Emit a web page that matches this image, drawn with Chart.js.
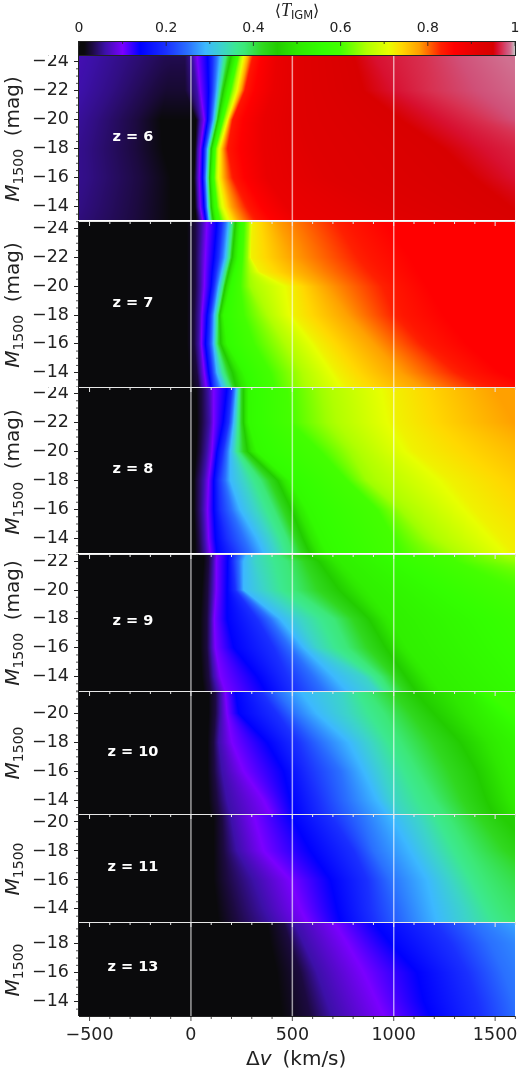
<!DOCTYPE html>
<html><head><meta charset="utf-8">
<script src="https://cdn.jsdelivr.net/npm/chart.js@4"></script>
<style>html,body{margin:0;padding:0;background:#fff;width:520px;height:1069px;overflow:hidden}canvas{position:absolute;left:0}</style>
</head><body>
<div id="root"></div>
<script>
// colour scale
const cmapT=[0,.012,.03,.06,.10,.14,.20,.25,.29,.33,.36,.38,.42,.455,.50,.56,.60,.66,.71,.74,.78,.83,.86,.92,.95,.96,.97,.98,.99,1];
const cmapColor=['#0a0a0a','#0a0a0c','#1c0a40','#3c10a8','#7a00ff','#0000ff','#1a30ff','#2a70ff','#3cb8ff','#3cd4c8','#3ce890','#3ce878','#30d820','#22cc00','#2ee800','#33ff00','#44ff00','#b0ff00','#e8ff00','#ffd800','#ffa000','#ff2000','#ff0000','#e00000','#d80000','#d81030','#d83050','#d05078','#d07090','#c8c8c8'];
const colorbarTicks=[0,.2,.4,.6,.8,1], colorbarMinor=[.1,.3,.5,.7,.9];
const xTicks=[-500,0,500,1000,1500], xMinor=[-400,-300,-200,-100,100,200,300,400,600,700,800,900,1100,1200,1300,1400,1600];
const refLines=[0,500,1000];

// z = 6
const z6Label='z = 6', z6Ticks=[-24,-22,-20,-18,-16,-14];
const z6M=[-24.45,-22,-20,-18,-16,-14,-13.1];
const z6Floor=[.035,.025,.005,0,0,0,0];
const z6T=[.075,.05,.03,.012,.012,.06,.10,.14,.29,.38,.45,.55,.70,.78,.84,.90,.92,.95,.96,.97,.98,.99];
const z6Dv=[
[-700,-330,-120,-90,-30,5,30,82,145,174,197,224,257,285,309,424,540,803,901,1148,1313,1543],
[-750,-400,-180,-120,-30,30,46,87,128,145,158,181,224,247,268,408,540,852,1000,1181,1411,1690],
[-800,-480,-270,-150,25,46,66,82,112,125,132,148,178,191,207,359,540,1033,1230,1428,1600,1855],
[-900,-520,-280,-140,20,33,46,59,82,92,100,112,137,158,183,359,589,1247,1444,1724,2020,2350],
[-1000,-513,-250,-100,15,30,41,56,76,86,92,105,132,165,211,375,671,1395,1600,1855,2185,2513],
[-1100,-560,-270,-100,20,35,46,64,82,92,100,115,153,202,285,474,951,1576,1855,2100,2300,2500],
[-1100,-600,-280,-100,25,46,58,72,89,99,109,125,178,235,326,540,1115,1691,2020,2250,2450,2650]];
// z = 7
const z7Label='z = 7', z7Ticks=[-24,-22,-20,-18,-16,-14];
const z7M=[-24.55,-22,-21,-20,-18,-16,-14,-13];
const z7T=[.012,.03,.06,.10,.14,.20,.29,.38,.45,.55,.65,.72,.78,.84,.86];
const z7Dv=[
[-20,21,54,79,128,153,186,206,219,243,285,301,424,770,951],
[-20,21,46,71,112,137,169,191,202,230,280,296,507,885,1082],
[-20,21,46,68,104,125,152,173,185,212,285,340,580,940,1120],
[-20,21,46,66,99,115,137,158,168,194,293,490,671,1000,1165],
[-20,16,41,54,79,95,115,132,141,161,359,507,770,1050,1247],
[-20,16,38,51,71,89,112,128,145,178,441,622,901,1181,1362],
[-10,30,46,66,87,104,128,165,202,260,523,720,1033,1362,1527],
[0,38,54,76,99,112,153,194,219,285,540,770,1132,1494,1691]];
// z = 8
const z8Label='z = 8', z8Ticks=[-24,-22,-20,-18,-16,-14];
const z8M=[-24.45,-22,-20,-18,-16,-14,-13];
const z8T=[.012,.03,.06,.10,.14,.20,.29,.38,.45,.55,.60,.65,.72,.78];
const z8Dv=[
[25,54,87,112,178,202,224,240,257,285,474,638,984,1494],
[30,54,92,112,158,186,211,237,257,285,490,671,1017,1592],
[25,46,79,104,128,158,194,235,276,326,638,786,1099,1855],
[15,30,63,87,112,137,194,342,424,490,770,869,1280,2020],
[15,30,59,82,112,145,243,408,490,572,918,1033,1395,2185],
[20,38,66,87,120,178,326,474,548,638,1000,1165,1527,2349],
[20,43,71,95,128,211,359,498,581,671,1033,1263,1592,2514]];
// z = 9
const z9Label='z = 9', z9Ticks=[-22,-20,-18,-16,-14];
const z9M=[-22.5,-22,-20,-18,-16,-14,-13];
const z9T=[.012,.03,.06,.10,.14,.20,.29,.33,.38,.45,.52,.60,.65];
const z9Dv=[
[63,87,112,128,186,211,276,326,424,556,704,1280,1527],
[63,87,109,125,181,207,260,317,474,622,737,1300,1640],
[54,82,105,125,178,219,260,359,507,720,869,1600,2400],
[46,79,99,115,178,326,441,540,704,869,984,1900,2600],
[46,79,99,120,211,408,556,622,770,951,1066,2000,2800],
[54,87,112,145,326,474,704,852,934,1050,1181,2100,3000],
[63,95,128,169,367,507,770,918,984,1099,1230,2200,3100]];
// z = 10
const z10Label='z = 10', z10Ticks=[-20,-18,-16,-14];
const z10M=[-21.55,-20,-18,-16,-14,-13.05];
const z10T=[.012,.03,.06,.10,.14,.20,.25,.29,.33,.38,.45,.52,.58];
const z10Dv=[
[87,120,145,169,219,342,424,540,737,869,1082,1362,1450],
[87,120,145,178,235,424,507,622,770,951,1181,1420,1600],
[82,112,137,202,375,523,640,780,885,1033,1313,1527,1800],
[82,115,153,260,457,580,737,852,951,1115,1395,1576,2000],
[87,128,178,359,490,630,770,918,1000,1198,1444,1625,2200],
[95,137,194,392,507,650,803,967,1033,1247,1477,1658,2300]];
// z = 11
const z11Label='z = 11', z11Ticks=[-20,-18,-16,-14];
const z11M=[-20.5,-18,-16,-14,-13.1];
const z11T=[.012,.03,.06,.10,.14,.20,.25,.29,.33,.38,.45];
const z11Dv=[
[112,153,194,309,490,688,836,984,1115,1263,1527],
[112,161,227,359,589,803,901,1082,1198,1362,1691],
[112,178,309,490,688,869,984,1165,1280,1444,1938],
[128,211,359,540,720,885,1033,1198,1346,1527,2185],
[137,227,392,572,737,901,1050,1214,1362,1576,2349]];
// z = 13
const z13Label='z = 13', z13Ticks=[-18,-16,-14];
const z13M=[-19.47,-18,-16,-14,-13.03];
const z13T=[.012,.03,.06,.10,.14,.20,.25,.29];
const z13Dv=[
[375,457,507,704,901,1198,1395,1642],
[392,490,556,770,984,1280,1477,1855],
[424,540,622,852,1115,1362,1543,1938],
[441,572,671,918,1148,1411,1592,2020],
[449,589,696,951,1181,1428,1609,2102]];

const FONT='"DejaVu Sans"';
const panels=[
 {label:z6Label,ticks:z6Ticks,M:z6M,T:z6T,Dv:z6Dv,floor:z6Floor,top:55,bottom:220,yMin:-24.45,yMax:-13.1,labelAt:[-286,-18.8],yLab:[139,true]},
 {label:z7Label,ticks:z7Ticks,M:z7M,T:z7T,Dv:z7Dv,top:221,bottom:387,yMin:-24.55,yMax:-13,labelAt:[-286,-18.86],yLab:[305,true]},
 {label:z8Label,ticks:z8Ticks,M:z8M,T:z8T,Dv:z8Dv,top:387,bottom:553,yMin:-24.45,yMax:-13,labelAt:[-286,-18.8],yLab:[472,true]},
 {label:z9Label,ticks:z9Ticks,M:z9M,T:z9T,Dv:z9Dv,top:554,bottom:691,yMin:-22.5,yMax:-13,labelAt:[-286,-17.83],yLab:[623,true]},
 {label:z10Label,ticks:z10Ticks,M:z10M,T:z10T,Dv:z10Dv,top:691,bottom:814,yMin:-21.55,yMax:-13.05,labelAt:[-286,-17.3],yLab:[753,false]},
 {label:z11Label,ticks:z11Ticks,M:z11M,T:z11T,Dv:z11Dv,top:814,bottom:922,yMin:-20.55,yMax:-13.1,labelAt:[-286,-16.9],yLab:[869,false]},
 {label:z13Label,ticks:z13Ticks,M:z13M,T:z13T,Dv:z13Dv,top:922,bottom:1016,yMin:-19.47,yMax:-13.03,labelAt:[-286,-16.35],yLab:[970,false],last:true}
];

const stops=cmapColor.map(h=>[parseInt(h.slice(1,3),16),parseInt(h.slice(3,5),16),parseInt(h.slice(5,7),16)]);
function colorOf(t){
  if(t<=0) return stops[0];
  if(t>=1) return stops[stops.length-1];
  let i=1; while(cmapT[i]<t) i++;
  const f=(t-cmapT[i-1])/(cmapT[i]-cmapT[i-1]),a=stops[i-1],b=stops[i];
  return [a[0]+(b[0]-a[0])*f,a[1]+(b[1]-a[1])*f,a[2]+(b[2]-a[2])*f];
}
function fixPad(s){s.paddingLeft=0;s.paddingRight=0;s.paddingTop=0;s.paddingBottom=0;}

// fills the plot from the contour datasets, through the chart's scales
const heatPlugin={id:'heat',beforeDatasetsDraw(chart){
  const {ctx,chartArea:a,scales:{x,y}}=chart, ds=chart.data.datasets;
  const w=Math.round(a.right-a.left),h=Math.round(a.bottom-a.top);
  const img=ctx.createImageData(w,h), n=ds.length, nr=ds[0].data.length;
  const pos=new Array(n), ts=new Array(n);
  for(let py=0;py<h;py++){
    const M=y.getValueForPixel(a.top+py+.5);
    let r=0; while(r<nr-2&&ds[0].data[r+1].y<M) r++;
    const y0=ds[0].data[r].y,y1=ds[0].data[r+1].y, f=Math.max(0,Math.min(1,(M-y0)/(y1-y0)));
    for(let i=0;i<n;i++){const p=ds[i].data[r],q=ds[i].data[r+1];pos[i]=p.x+(q.x-p.x)*f;ts[i]=p.t+(q.t-p.t)*f;}
    let k=0;
    for(let px=0;px<w;px++){
      const v=x.getValueForPixel(a.left+px+.5);
      while(k<n&&pos[k]<v) k++;
      let t;
      if(k===0) t=ts[0]; else if(k>=n) t=ts[n-1];
      else t=ts[k-1]+(ts[k]-ts[k-1])*(v-pos[k-1])/Math.max(1e-6,pos[k]-pos[k-1]);
      const c=colorOf(t), o=(py*w+px)*4;
      img.data[o]=c[0];img.data[o+1]=c[1];img.data[o+2]=c[2];img.data[o+3]=255;
    }
  }
  ctx.putImageData(img,Math.round(a.left),Math.round(a.top));
}};

const overlayPlugin={id:'overlay',afterDraw(chart,args,opts){
  const p=opts.panel,{ctx,chartArea:a,scales:{x,y}}=chart;
  ctx.save();
  // reference lines
  ctx.strokeStyle='rgba(255,255,255,.6)';ctx.lineWidth=1.5;
  refLines.forEach(v=>{const px=x.getPixelForValue(v);ctx.beginPath();ctx.moveTo(px,a.top);ctx.lineTo(px,a.bottom);ctx.stroke();});
  // panel label
  ctx.fillStyle='#fff';ctx.font='bold 14.5px '+FONT;ctx.textAlign='center';ctx.textBaseline='middle';
  ctx.fillText(p.label,x.getPixelForValue(p.labelAt[0]),y.getPixelForValue(p.labelAt[1]));
  // y minor ticks
  ctx.strokeStyle='#222';ctx.lineWidth=.8;
  for(let v=Math.ceil(y.min*2)/2;v<=y.max;v+=.5){
    if(Number.isInteger(v)&&v%2===0) continue;
    const py=y.getPixelForValue(v);ctx.beginPath();ctx.moveTo(a.left,py);ctx.lineTo(a.left-3,py);ctx.stroke();
  }
  // left / bottom spines
  ctx.strokeStyle='#222';ctx.lineWidth=1;
  ctx.beginPath();ctx.moveTo(a.left-.5,a.top);ctx.lineTo(a.left-.5,a.bottom);ctx.stroke();
  if(p.last){
    ctx.beginPath();ctx.moveTo(a.left,a.bottom+.5);ctx.lineTo(a.right,a.bottom+.5);ctx.stroke();
    ctx.lineWidth=.8;
    xTicks.forEach(v=>{const px=x.getPixelForValue(v);ctx.beginPath();ctx.moveTo(px,a.bottom);ctx.lineTo(px,a.bottom+5);ctx.stroke();});
    xMinor.forEach(v=>{const px=x.getPixelForValue(v);ctx.beginPath();ctx.moveTo(px,a.bottom);ctx.lineTo(px,a.bottom+3);ctx.stroke();});
    // x title
    ctx.fillStyle='#222';ctx.textBaseline='alphabetic';ctx.textAlign='left';
    const cy=a.bottom+49;let cx=246;
    ctx.font='20px '+FONT;ctx.fillText('Δ',cx,cy);cx+=ctx.measureText('Δ').width;
    ctx.font='italic 20px '+FONT;ctx.fillText('v',cx,cy);cx+=ctx.measureText('v').width+11;
    ctx.font='20px '+FONT;ctx.fillText('(km/s)',cx,cy);
  }
  // top separator and inward ticks
  if(p.top>55){
    ctx.strokeStyle='#e8e8e8';ctx.lineWidth=1.2;
    ctx.beginPath();ctx.moveTo(a.left,a.top+.5);ctx.lineTo(a.right,a.top+.5);ctx.stroke();
    ctx.lineWidth=1;
    xTicks.forEach(v=>{const px=x.getPixelForValue(v);ctx.beginPath();ctx.moveTo(px,a.top);ctx.lineTo(px,a.top+5);ctx.stroke();});
    xMinor.forEach(v=>{const px=x.getPixelForValue(v);ctx.beginPath();ctx.moveTo(px,a.top);ctx.lineTo(px,a.top+3);ctx.stroke();});
  }
  // y title
  ctx.translate(12,p.yLab[0]-p.top);ctx.rotate(-Math.PI/2);
  ctx.fillStyle='#222';ctx.textBaseline='alphabetic';ctx.textAlign='left';
  const parts=[['italic 20px '+FONT,'M',0],['14px '+FONT,'1500',3.5]];
  if(p.yLab[1]) parts.push(['20px '+FONT,'  (mag)',0]);
  let tot=0;parts.forEach(q=>{ctx.font=q[0];tot+=ctx.measureText(q[1]).width;});
  let tx=-tot/2;parts.forEach(q=>{ctx.font=q[0];ctx.fillText(q[1],tx,7+q[2]);tx+=ctx.measureText(q[1]).width;});
  ctx.restore();
}};

const root=document.getElementById('root');
panels.forEach(p=>{
  const c=document.createElement('canvas');
  const H=p.last?1069-p.top:p.bottom-p.top;
  c.width=520;c.height=H;c.style.top=p.top+'px';c.style.width='520px';c.style.height=H+'px';root.appendChild(c);
  const datasets=p.T.map((t,i)=>({label:'T='+t,showLine:false,pointRadius:0,
    data:p.M.map((m,r)=>({x:p.Dv[r][i],y:m,t:p.floor?Math.max(t,p.floor[r]):t}))}));
  new Chart(c,{type:'scatter',data:{datasets},plugins:[heatPlugin,overlayPlugin],options:{
    responsive:false,animation:false,devicePixelRatio:1,events:[],
    layout:{padding:{left:0,right:5,top:0,bottom:0}},
    plugins:{legend:{display:false},tooltip:{enabled:false},overlay:{panel:p}},
    scales:{
      x:{type:'linear',min:-552,max:1598,display:!!p.last,position:'bottom',
        afterBuildTicks:s=>{s.ticks=xTicks.map(value=>({value}));},
        afterFit:s=>{s.height=p.last?53:0;fixPad(s);},
        grid:{drawOnChartArea:false,drawTicks:false},border:{display:false},
        ticks:{autoSkip:false,maxRotation:0,padding:9,color:'#222',font:{family:'DejaVu Sans',size:17.5},
          callback:v=>v<0?'\u2212'+Math.abs(v):String(v)}},
      y:{type:'linear',reverse:true,min:p.yMin,max:p.yMax,position:'left',
        afterBuildTicks:s=>{s.ticks=p.ticks.map(value=>({value}));},
        afterFit:s=>{s.width=79;fixPad(s);},
        grid:{drawOnChartArea:false,drawTicks:true,tickLength:5,tickColor:'#222',tickWidth:1},border:{display:false},
        ticks:{autoSkip:false,padding:5,color:'#222',font:{family:'DejaVu Sans',size:17.5},
          callback:v=>'\u2212'+Math.abs(v)}}
    }}});
});

// colour bar
const cbar=document.createElement('canvas');cbar.width=520;cbar.height=56;cbar.style.top='0';root.appendChild(cbar);
const barPlugin={id:'bar',beforeDatasetsDraw(chart){
  const {ctx,chartArea:a,scales:{x}}=chart;
  for(let px=Math.round(a.left);px<Math.round(a.right);px++){
    const c=colorOf(x.getValueForPixel(px+.5));
    ctx.fillStyle='rgb('+c.map(Math.round).join(',')+')';ctx.fillRect(px,a.top,1,a.bottom-a.top);
  }
},afterDraw(chart){
  const {ctx,chartArea:a,scales:{x}}=chart;
  ctx.save();ctx.strokeStyle='#222';ctx.lineWidth=1;
  ctx.strokeRect(a.left-.5,a.top-.5,a.right-a.left+1,a.bottom-a.top+1);
  ctx.lineWidth=.8;
  colorbarTicks.forEach(v=>{const px=x.getPixelForValue(v);ctx.beginPath();ctx.moveTo(px,a.top);ctx.lineTo(px,a.top+4);ctx.stroke();});
  colorbarMinor.forEach(v=>{const px=x.getPixelForValue(v);ctx.beginPath();ctx.moveTo(px,a.top);ctx.lineTo(px,a.top+2);ctx.stroke();});
  ctx.fillStyle='#222';ctx.textBaseline='alphabetic';ctx.textAlign='left';
  const parts=[['16px '+FONT,'\u27E8',0],['italic 18px "Liberation Serif"','T',0],['11.5px '+FONT,'IGM',2.5],['16px '+FONT,'\u27E9',0]];
  let tot=0;parts.forEach(q=>{ctx.font=q[0];tot+=ctx.measureText(q[1]).width;});
  let tx=297-tot/2;parts.forEach(q=>{ctx.font=q[0];ctx.fillText(q[1],tx,16+q[2]);tx+=ctx.measureText(q[1]).width;});
  ctx.restore();
}};
new Chart(cbar,{type:'scatter',data:{datasets:[{label:'T',showLine:false,pointRadius:0,data:cmapT.map(t=>({x:t,y:.5}))}]},plugins:[barPlugin],options:{
  responsive:false,animation:false,devicePixelRatio:1,events:[],
  layout:{padding:{left:0,right:5,top:0,bottom:1}},
  plugins:{legend:{display:false},tooltip:{enabled:false}},
  scales:{
    x:{type:'linear',min:0,max:1,position:'top',
      afterBuildTicks:s=>{s.ticks=colorbarTicks.map(value=>({value}));},
      afterFit:s=>{s.height=42;fixPad(s);},
      grid:{drawOnChartArea:false,drawTicks:false},border:{display:false},
      ticks:{autoSkip:false,maxRotation:0,padding:5,color:'#222',font:{family:'DejaVu Sans',size:14},
        callback:v=>String(v)}},
    y:{display:false,min:0,max:1,afterFit:s=>{s.width=79;fixPad(s);}}
  }}});
</script>
</body></html>
